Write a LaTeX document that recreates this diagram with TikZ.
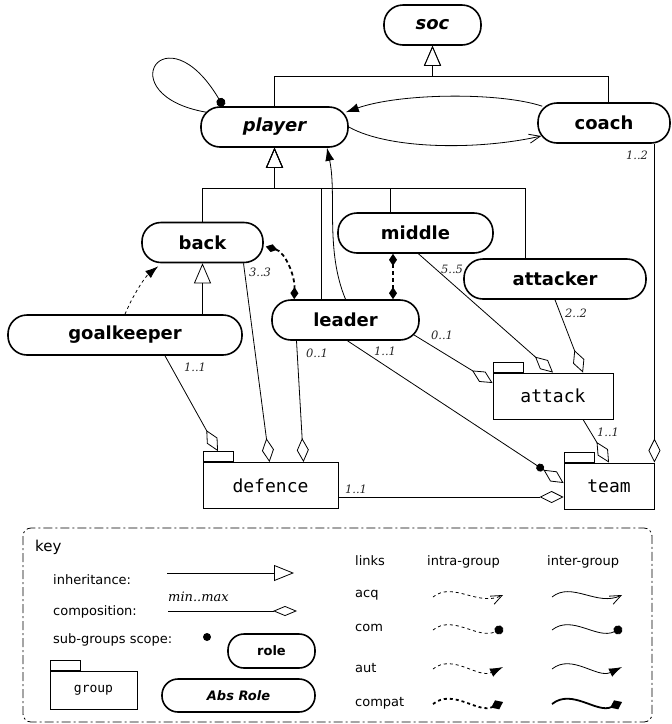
\documentclass[tikz,border=0pt]{standalone}
\usepackage{fontspec}
\setmainfont{DejaVu Sans}
\setmonofont{DejaVu Sans Mono}
\newfontfamily\multfont{DejaVu Serif}
\usepackage{tikz}
\usetikzlibrary{arrows.meta}
\tikzset{role/.style={draw, line width=1.6pt, rounded corners=19pt, minimum height=40pt, minimum width=#1, inner sep=0pt, font=\fontsize{18}{22}\selectfont\bfseries},
absrole/.style={role=#1, font=\fontsize{18}{22}\selectfont\bfseries\itshape},
grp/.style={draw, line width=0.9pt, minimum width=#1, minimum height=46pt, inner sep=0pt, font=\ttfamily\fontsize{18}{22}\selectfont},
grptab/.style={draw, line width=0.9pt, minimum width=30pt, minimum height=10pt, inner sep=0pt, anchor=south west},
% links between roles
inh/.style={line width=0.8pt, -{Triangle[open, length=20pt, width=17pt]}},
comp/.style={line width=0.8pt, -{Diamond[open, length=24pt, width=12pt]}},
compscope/.style={line width=0.8pt, -{Circle[length=8pt] Diamond[open, length=24pt, width=12pt]}},
acq/.style={line width=0.8pt, -{Straight Barb[length=11pt, width=9pt]}},
com/.style={line width=0.8pt, -{Circle[length=9pt]}},
aut/.style={line width=0.8pt, -{Latex[length=13pt, width=9pt]}},
compat/.style={line width=1.8pt, -{Diamond[length=13pt, width=10pt]}},
compatboth/.style={line width=1.8pt, {Diamond[length=12pt, width=8pt]}-{Diamond[length=12pt, width=8pt]}},
intra/.style={dash pattern=on 3pt off 3pt},
mult/.style={font=\multfont\itshape\fontsize{11.5}{13}\selectfont, text=black!85, inner sep=0pt},
keytxt/.style={font=\fontsize{13}{16}\selectfont, inner sep=0pt}}

\begin{document}
\begin{tikzpicture}[x=1pt, y=-1pt]
\useasboundingbox (0,0) rectangle (672,724);

% roles
\node[absrole=97pt] (soc) at (432.5,25) {soc};
\node[absrole=147pt] (player) at (274.5,127) {player};
\node[role=132pt] (coach) at (604,123) {coach};
\node[role=121pt] (back) at (202.5,242.5) {back};
\node[role=234pt] (goalkeeper) at (125,335) {goalkeeper};
\node[role=147pt] (leader) at (345.5,320) {leader};
\node[role=155pt] (middle) at (415.5,233) {middle};
\node[role=182pt] (attacker) at (555,279) {attacker};

% groups
\node[grp=120pt] (attack) at (553,396) {attack};
\node[grptab] (attack-tab) at (attack.north west) {};
\node[grp=90pt] (team) at (609,486) {team};
\node[grptab] (team-tab) at (team.north west) {};
\node[grp=135pt] (defence) at (270.5,485.5) {defence};
\node[grptab] (defence-tab) at (defence.north west) {};

% inheritance
\coordinate (socbus) at (432.5,76);
\coordinate (plbus) at (274.5,188);
\draw[inh] (player.north) |- (socbus) -- (soc.south);
\draw[inh] ([xshift=4pt]coach.north) |- (socbus) -- (soc.south);
\foreach \r/\dx in {back/0, leader/-24.5, middle/-25.5, attacker/-30}
     \draw[inh] ([xshift=\dx pt]\r.north) |- (plbus) -- (player.south);
\draw[inh] ([xshift=77.5pt]goalkeeper.north) -- (back.south);

% links
\draw[aut] ([xshift=5pt,yshift=-4pt]coach.north west) .. controls (500,92) and (400,93) .. ([xshift=-3pt,yshift=-6pt]player.north east);
\draw[acq] (player.east) .. controls (390,150) and (480,150) .. ([xshift=4pt,yshift=-13pt]coach.west);
\draw[com] ([xshift=6pt,yshift=-6pt]player.north west) .. controls (108,95) and (165,8) .. ([xshift=23pt]player.north west);
\draw[aut] (leader.north) .. controls (325,250) and (337,195) .. ([xshift=52.5pt]player.south);
\draw[aut, intra] (goalkeeper.north) .. controls (133,295) and (145,277) .. ([xshift=17pt,yshift=-3pt]back.south west);
\draw[compatboth, dash pattern=on 4pt off 3pt] ([xshift=2pt,yshift=-4pt]back.east) .. controls (285,252) and (295,275) .. ([xshift=23pt]leader.north west);
\draw[compatboth, dash pattern=on 4pt off 3pt] ([xshift=-22.5pt]middle.south) -- ([xshift=-22.5pt]middle.south |- leader.north);

% composition
\draw[comp] ([xshift=40pt]goalkeeper.south) -- (defence-tab.north);
\draw[comp] ([xshift=41pt]back.south) -- ([xshift=-1pt]defence.north);
\draw[comp] ([xshift=-49pt]leader.south) -- ([xshift=33pt]defence.north);
\draw[comp] ([xshift=-6pt,yshift=6pt]leader.south east) -- ([yshift=13pt]attack.west);
\draw[compscope] ([xshift=2pt]leader.south) -- ([yshift=3pt]team.west);
\draw[comp] ([xshift=3pt]middle.south) -- (attack.north);
\draw[comp] (attacker.south) -- ([xshift=30pt]attack.north);
\draw[comp] ([xshift=30pt]attack.south) -- (team.north);
\draw[comp] (team.north east |- coach.south) -- (team.north east);
\draw[comp] ([yshift=-11.5pt]defence.east) -- ([yshift=-11pt]team.west);

%cardinalities
\node[mult] (m-gk) at (195,367) {1..1};
\node[mult] (m-back) at (260,272) {3..3};
\node[mult] (m-ld) at (317,353) {0..1};
\node[mult] (m-la) at (442,335) {0..1};
\node[mult] (m-lt) at (385,351) {1..1};
\node[mult] (m-mid) at (452,269) {5..5};
\node[mult] (m-att) at (576,313) {2..2};
\node[mult] (m-at) at (608,432) {1..1};
\node[mult] (m-co) at (637,155) {1..2};
\node[mult] (m-dt) at (356,489) {1..1};

% key
\draw[line width=0.8pt, rounded corners=8pt, dash pattern=on 9pt off 3pt on 2pt off 3pt] (23,528) rectangle (652,722);
\node[keytxt, font=\fontsize{15}{18}\selectfont, anchor=base west] (key) at (35,551) {key};
\node[keytxt, anchor=base west] (key-inh) at (53,584) {inheritance:};
\node[keytxt, anchor=base west] (key-comp) at (53,615) {composition:};
\node[keytxt, anchor=base west] (key-scope) at (53,643) {sub-groups scope:};
\draw[inh, -{Triangle[open, length=20pt, width=16pt]}] (167,573) -- (294,573);
\node[mult, font=\multfont\itshape\fontsize{13}{15}\selectfont, text=black, anchor=base west] (key-minmax) at (168,601) {min..max};
\draw[comp, -{Diamond[open, length=24pt, width=10pt]}] (168,611) -- (297,611);
\fill (207,637) circle (4pt);
\node[role=87pt, minimum height=34pt, rounded corners=16pt, font=\fontsize{13}{16}\selectfont\bfseries] (key-role) at (271.5,651) {role};
\node[role=153pt, minimum height=33pt, rounded corners=16pt, font=\fontsize{13}{16}\selectfont\bfseries\itshape] (key-absrole) at (238.5,695.5) {Abs Role};
\node[grp=87pt, minimum height=38pt, font=\ttfamily\fontsize{13}{16}\selectfont] (key-group) at (93.5,690) {group};
\node[grptab] (key-group-tab) at (key-group.north west) {};

\node[keytxt, anchor=base west] (key-links) at (355,565) {links};
\node[keytxt, anchor=base west] (key-intra) at (427,565) {intra-group};
\node[keytxt, anchor=base west] (key-inter) at (547,565) {inter-group};
\foreach \lk/\ty/\ly in {acq/597/597, com/631/630, aut/672/669, compat/706/704} {
     \node[keytxt, anchor=base west] (key-\lk) at (355,\ty) {\lk};
     \draw[\lk, intra] (433,\ly) .. controls (453,\ly-16) and (478,\ly+10) .. (503,\ly-2);
     \draw[\lk] (552,\ly) .. controls (572,\ly-16) and (597,\ly+10) .. (622,\ly-2);
}

\end{tikzpicture}
\end{document}
